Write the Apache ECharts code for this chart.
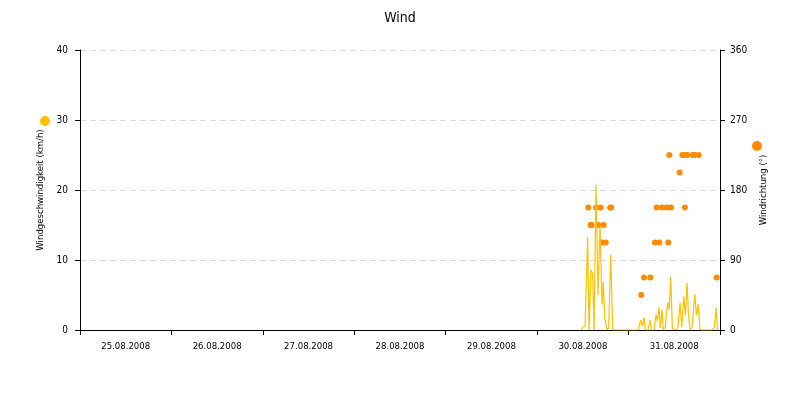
<!DOCTYPE html>
<html><head><meta charset="utf-8">
<script src="https://cdn.jsdelivr.net/npm/echarts@6/dist/echarts.min.js"></script>
<style>html,body{margin:0;padding:0;background:#fff}#c{width:800px;height:400px}</style>
</head><body><div id="c"></div>
<script>
var dayLabels = ['25.08.2008','26.08.2008','27.08.2008','28.08.2008','29.08.2008','30.08.2008','31.08.2008'];
var speedTicks = [0,10,20,30,40];
var dirTicks = [0,90,180,270,360];
var speedData = [
['2008-08-30 11:40',0],['2008-08-30 12:02',0.4],['2008-08-30 12:34',0.5],['2008-08-30 13:16',13.3],
['2008-08-30 13:37',0],['2008-08-30 14:08',8.6],['2008-08-30 14:35',8],['2008-08-30 14:56',0],
['2008-08-30 15:27',20.7],['2008-08-30 15:59',5],['2008-08-30 16:30',15],['2008-08-30 17:02',3.6],
['2008-08-30 17:22',6.9],['2008-08-30 17:44',1.7],['2008-08-30 18:05',1.6],['2008-08-30 18:20',0],
['2008-08-30 18:47',0.3],['2008-08-30 19:19',10.7],['2008-08-30 19:50',0],['2008-08-30 20:26',0],
['2008-08-31 02:33',0],['2008-08-31 03:11',1.4],['2008-08-31 03:36',0.6],['2008-08-31 04:03',1.8],
['2008-08-31 04:24',0],['2008-08-31 05:06',0],['2008-08-31 05:38',1.4],['2008-08-31 05:58',0],
['2008-08-31 06:40',0],['2008-08-31 07:12',2.2],['2008-08-31 07:32',1.3],['2008-08-31 07:59',3.2],
['2008-08-31 08:20',0.3],['2008-08-31 08:46',2.9],['2008-08-31 09:07',0],['2008-08-31 09:39',0.4],
['2008-08-31 10:00',2.6],['2008-08-31 10:21',4],['2008-08-31 10:42',2.9],['2008-08-31 11:04',7.6],
['2008-08-31 11:30',0.2],['2008-08-31 11:56',0.2],['2008-08-31 12:28',0],['2008-08-31 12:59',0.4],
['2008-08-31 13:31',3.9],['2008-08-31 13:58',0.4],['2008-08-31 14:29',4.8],['2008-08-31 14:55',2.1],
['2008-08-31 15:21',6.7],['2008-08-31 15:42',2.4],['2008-08-31 16:09',0],['2008-08-31 16:40',0.4],
['2008-08-31 17:23',5.1],['2008-08-31 17:48',2.1],['2008-08-31 18:15',3.7],['2008-08-31 18:46',0],
['2008-08-31 19:18',0],['2008-08-31 21:55',0],['2008-08-31 22:32',0.4],['2008-08-31 22:58',3.2],
['2008-08-31 23:19',0],['2008-08-31 23:46',0]
];
var dirData = [
['2008-08-30 13:26',157.5],['2008-08-30 14:00',135],['2008-08-30 14:20',135],['2008-08-30 15:27',157.5],
['2008-08-30 16:03',135],['2008-08-30 16:40',157.5],['2008-08-30 16:56',112.5],['2008-08-30 17:27',135],
['2008-08-30 18:00',112.5],['2008-08-30 19:10',157.5],['2008-08-30 19:25',157.5],
['2008-08-31 03:20',45],['2008-08-31 04:03',67.5],['2008-08-31 05:42',67.5],['2008-08-31 06:56',112.5],
['2008-08-31 07:23',157.5],['2008-08-31 08:04',112.5],['2008-08-31 08:47',157.5],['2008-08-31 10:00',157.5],
['2008-08-31 10:26',112.5],['2008-08-31 10:42',225],['2008-08-31 11:08',157.5],['2008-08-31 13:25',202.5],
['2008-08-31 14:06',225],['2008-08-31 14:48',225],['2008-08-31 14:48',157.5],['2008-08-31 15:25',225],
['2008-08-31 16:50',225],['2008-08-31 17:21',225],['2008-08-31 18:24',225],['2008-08-31 23:08',67.5]
];
var FONT = '"DejaVu Sans Condensed", "DejaVu Sans", sans-serif';
var chart = echarts.init(document.getElementById('c'), null, {renderer:'canvas'});
chart.setOption({
  animation:false,
  backgroundColor:'#fff',
  title:{text:'Wind', left:'center', top:6, textStyle:{fontFamily:FONT, fontSize:14, fontWeight:'normal', color:'#000'}},
  grid:{left:80, right:80, top:50, bottom:70, containLabel:false},
  xAxis:[
    {type:'time', min:'2008-08-25 00:00', max:'2008-09-01 00:00', show:false},
    {type:'category', data:dayLabels, boundaryGap:true, position:'bottom',
     axisLine:{show:true, lineStyle:{color:'#000', width:1}},
     axisTick:{show:true, length:5, lineStyle:{color:'#000'}},
     axisLabel:{fontFamily:FONT, fontSize:9.5, color:'#000', margin:12},
     splitLine:{show:false}}
  ],
  yAxis:[
    {type:'value', min:0, max:40, interval:10, position:'left',
     name:'Windgeschwindigkeit (km/h)', nameLocation:'middle', nameRotate:90, nameGap:28,
     nameTextStyle:{fontFamily:FONT, fontSize:9.5, color:'#000'},
     axisLine:{show:true, lineStyle:{color:'#000'}},
     axisTick:{show:true, length:5, lineStyle:{color:'#000'}},
     axisLabel:{fontFamily:FONT, fontSize:10, color:'#000', margin:12},
     splitLine:{show:true, lineStyle:{color:'#dcdcdc', type:[6,4]}}},
    {type:'value', min:0, max:360, interval:90, position:'right',
     name:'Windrichtung (°)', nameLocation:'middle', nameRotate:90, nameGap:32,
     nameTextStyle:{fontFamily:FONT, fontSize:9.5, color:'#000'},
     axisLine:{show:true, lineStyle:{color:'#000'}},
     axisTick:{show:true, length:5, lineStyle:{color:'#000'}},
     axisLabel:{fontFamily:FONT, fontSize:10, color:'#000', margin:10},
     splitLine:{show:false}}
  ],
  graphic:[
    {type:'circle', shape:{cx:45, cy:121, r:5}, style:{fill:'#FFC000'}},
    {type:'circle', shape:{cx:757, cy:146, r:5}, style:{fill:'#FF8C00'}}
  ],
  series:[
    {type:'line', name:'Windgeschwindigkeit', xAxisIndex:0, yAxisIndex:0, data:speedData,
     showSymbol:false, symbol:'none', lineStyle:{color:'#FFC000', width:1.2}, itemStyle:{color:'#FFC000'}},
    {type:'scatter', name:'Windrichtung', xAxisIndex:0, yAxisIndex:1, data:dirData,
     symbolSize:6, itemStyle:{color:'#FF8C00', opacity:1}}
  ]
});
</script></body></html>
